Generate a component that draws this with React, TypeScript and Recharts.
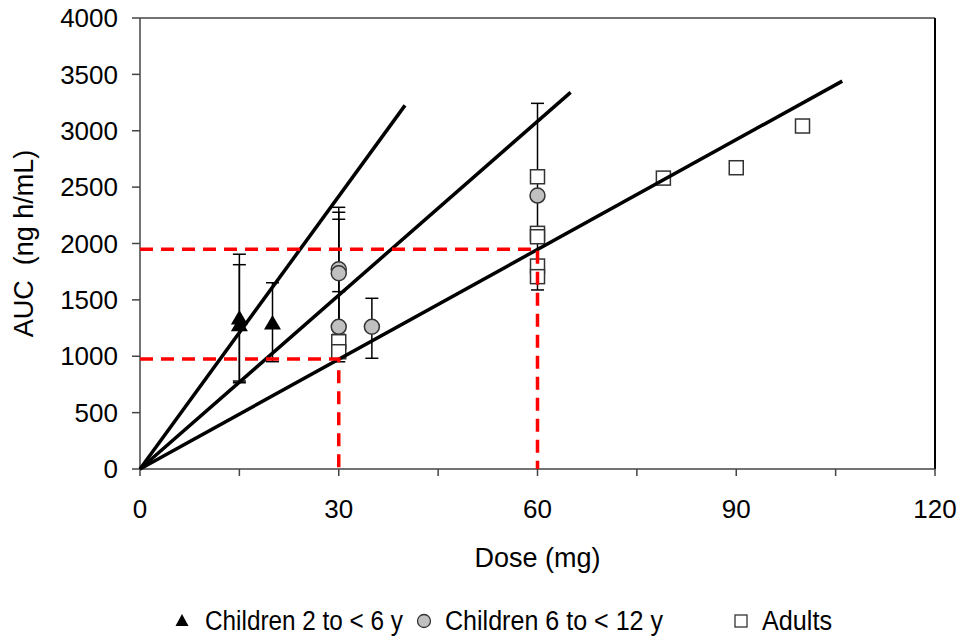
import React from 'react';
import { ComposedChart, Scatter, XAxis, YAxis, ErrorBar, ReferenceLine, Label } from 'recharts';

const W = 964;
const H = 639;
const FONT = '"Liberation Sans", Arial, Helvetica, sans-serif';

const xTicks = [0, 15, 30, 45, 60, 75, 90, 105, 120];
const yTicks = [0, 500, 1000, 1500, 2000, 2500, 3000, 3500, 4000];

const seriesNames = ['Children 2 to < 6 y', 'Children 6 to < 12 y', 'Adults'];

// err = [minus, plus]
const children2to6 = [
  { dose: 15, auc: 1340, err: [560, 565] },
  { dose: 15, auc: 1280, err: [515, 532] },
  { dose: 20, auc: 1295, err: [343, 357] },
];

const children6to12 = [
  { dose: 30, auc: 1771, err: [550, 550] },
  { dose: 30, auc: 1736, err: [541, 541] },
  { dose: 30, auc: 1262, err: [311, 311] },
  { dose: 35, auc: 1262, err: [280, 252] },
  { dose: 60, auc: 2425, err: [837, 818] },
];

const adults = [
  { dose: 30, auc: 1129, err: [100, 1086] },
  { dose: 30, auc: 1040, err: [0, 0] },
  { dose: 60, auc: 2592, err: [0, 0] },
  { dose: 60, auc: 2090, err: [0, 0] },
  { dose: 60, auc: 2060, err: [0, 0] },
  { dose: 60, auc: 1800, err: [0, 0] },
  { dose: 60, auc: 1706, err: [0, 0] },
  { dose: 79, auc: 2580, err: [0, 0] },
  { dose: 90, auc: 2672, err: [0, 0] },
  { dose: 100, auc: 3042, err: [0, 0] },
];

const fitLine1 = [{ dose: 0, auc: 0 }, { dose: 40, auc: 3225 }];
const fitLine2 = [{ dose: 0, auc: 0 }, { dose: 65, auc: 3340 }];
const fitLine3 = [{ dose: 0, auc: 0 }, { dose: 106, auc: 3440 }];

const ref30 = [{ dose: 0, auc: 975 }, { dose: 30, auc: 975 }, { dose: 30, auc: 0 }];
const ref60 = [{ dose: 0, auc: 1950 }, { dose: 60, auc: 1950 }, { dose: 60, auc: 0 }];

const Triangle = (p: any) => {
  const { cx, cy } = p;
  return <path d={`M${cx},${cy - 8} L${cx + 8.5},${cy + 6.5} L${cx - 8.5},${cy + 6.5} Z`} fill="#000" />;
};
const Dot = (p: any) => {
  const { cx, cy } = p;
  return <circle cx={cx} cy={cy} r={7.5} fill="#c0c0c0" stroke="#333" strokeWidth={1.5} />;
};
const Sq = (p: any) => {
  const { cx, cy } = p;
  return <rect x={cx - 7} y={cy - 7} width={14} height={14} fill="#fff" stroke="#333" strokeWidth={1.5} />;
};
const NoShape = () => <g />;

const axisStroke = '#444';

export default function App() {
  return (
    <div style={{ position: 'absolute', left: 0, top: 0, width: W, height: H, background: '#fff', fontFamily: FONT }}>
      <ComposedChart width={W} height={H} margin={{ top: 18, right: 29, bottom: 70, left: 80 }}>
        <XAxis
          dataKey="dose"
          type="number"
          domain={[0, 120]}
          ticks={xTicks}
          interval={0}
          height={100}
          tickSize={7}
          tickMargin={24}
          tickFormatter={(v: number) => (v % 30 === 0 ? String(v) : '')}
          axisLine={{ stroke: axisStroke, strokeWidth: 1.5 }}
          tickLine={{ stroke: axisStroke, strokeWidth: 1.5 }}
          tick={{ fill: '#000', fontSize: 26, fontFamily: FONT }}
        >
          <Label
            content={(props: any) => {
              const vb = props.viewBox || {};
              return (
                <text x={vb.x + vb.width / 2} y={567} textAnchor="middle" fontSize={27} fontFamily={FONT} fill="#000">
                  Dose (mg)
                </text>
              );
            }}
          />
        </XAxis>
        <YAxis
          dataKey="auc"
          type="number"
          domain={[0, 4000]}
          ticks={yTicks}
          interval={0}
          width={60}
          tickSize={8}
          tickMargin={14}
          axisLine={{ stroke: axisStroke, strokeWidth: 1.5 }}
          tickLine={{ stroke: axisStroke, strokeWidth: 1.5 }}
          tick={{ fill: '#000', fontSize: 26, fontFamily: FONT }}
        >
          <Label
            content={(props: any) => {
              const vb = props.viewBox || {};
              const cy = vb.y + vb.height / 2;
              return (
                <text
                  transform={`translate(33, ${cy}) rotate(-90)`}
                  textAnchor="middle"
                  fontSize={27}
                  fontFamily={FONT}
                  fill="#000"
                  style={{ whiteSpace: 'pre' }}
                >
                  {'AUC  (ng h/mL)'}
                </text>
              );
            }}
          />
        </YAxis>
        <ReferenceLine y={4000} stroke={axisStroke} strokeWidth={1.5} />
        <ReferenceLine x={120} stroke="#000" strokeWidth={2} />

        <Scatter name={seriesNames[0]} data={children2to6} dataKey="auc" shape={Triangle} isAnimationActive={false}>
          <ErrorBar dataKey="err" direction="y" width={6.5} stroke="#000" strokeWidth={1.5} />
        </Scatter>
        <Scatter name={seriesNames[1]} data={children6to12} dataKey="auc" shape={Dot} isAnimationActive={false}>
          <ErrorBar dataKey="err" direction="y" width={6.5} stroke="#000" strokeWidth={1.5} />
        </Scatter>
        <Scatter name={seriesNames[2]} data={adults} dataKey="auc" shape={Sq} isAnimationActive={false}>
          <ErrorBar dataKey="err" direction="y" width={6.5} stroke="#000" strokeWidth={1.5} />
        </Scatter>

        <Scatter data={fitLine1} dataKey="auc" line={{ stroke: '#000', strokeWidth: 3.5 }} shape={NoShape} legendType="none" isAnimationActive={false} />
        <Scatter data={fitLine2} dataKey="auc" line={{ stroke: '#000', strokeWidth: 3.5 }} shape={NoShape} legendType="none" isAnimationActive={false} />
        <Scatter data={fitLine3} dataKey="auc" line={{ stroke: '#000', strokeWidth: 3.5 }} shape={NoShape} legendType="none" isAnimationActive={false} />

        <Scatter data={ref30} dataKey="auc" line={{ stroke: '#ff0000', strokeWidth: 3.5, strokeDasharray: '13 8' }} shape={NoShape} legendType="none" isAnimationActive={false} />
        <Scatter data={ref60} dataKey="auc" line={{ stroke: '#ff0000', strokeWidth: 3.5, strokeDasharray: '13 8' }} shape={NoShape} legendType="none" isAnimationActive={false} />
      </ComposedChart>

      <svg width={W} height={40} style={{ position: 'absolute', left: 0, top: 601 }}>
        <path d="M182,13 L188.5,25 L175.5,25 Z" fill="#000" />
        <text x={205} y={29} fontSize={27} fontFamily={FONT} fill="#000" textLength={198} lengthAdjust="spacingAndGlyphs">{seriesNames[0]}</text>
        <circle cx={424} cy={20} r={6.5} fill="#c0c0c0" stroke="#333" strokeWidth={1.3} />
        <text x={445} y={29} fontSize={27} fontFamily={FONT} fill="#000" textLength={218} lengthAdjust="spacingAndGlyphs">{seriesNames[1]}</text>
        <rect x={735} y={14} width={12} height={12} fill="#fff" stroke="#333" strokeWidth={1.3} />
        <text x={762} y={29} fontSize={27} fontFamily={FONT} fill="#000" textLength={70} lengthAdjust="spacingAndGlyphs">{seriesNames[2]}</text>
      </svg>
    </div>
  );
}
